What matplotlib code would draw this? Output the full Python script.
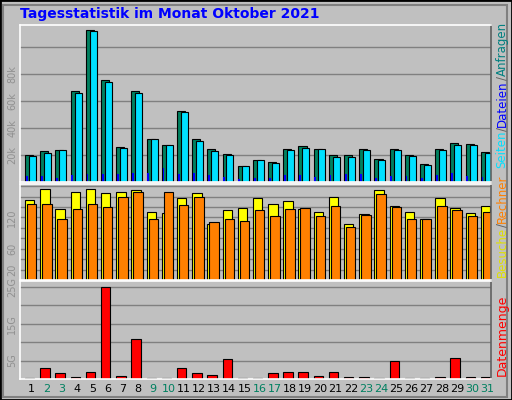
import matplotlib
matplotlib.use("Agg")
import matplotlib.pyplot as plt
from matplotlib.patches import Rectangle
import numpy as np

days = list(range(1, 32))
weekend = [2, 3, 9, 10, 16, 17, 23, 24, 30, 31]
hits = [20, 23, 23.7, 66.9, 112.6, 75.6, 26, 66.9, 32, 27.4, 52.8, 32, 24.7, 20.7, 12.1, 16.5,
        15, 24.7, 26.7, 24.7, 20, 20, 24.7, 17.3, 24.7, 20, 13.3, 24.7, 28.9, 28.1, 22.2]
files = [19.3, 21.5, 23.7, 65.9, 111.9, 74.1, 25.2, 65.9, 32, 27.4, 51.9, 30.4, 23, 20, 11.9, 16.3,
         14.1, 23.7, 25.2, 24.7, 18.5, 18.5, 23.7, 16.3, 23.7, 19.3, 12.6, 23.7, 27.4, 27.4, 21.5]
pages = [4.7, 4.7, 3.2, 5.4, 6.2, 6.2, 6.2, 6.9, 6.9, 10.6, 6.2, 6.9, 5.4, 4.0, 2.5, 3.2,
         3.2, 5.4, 5.4, 4.0, 5.4, 6.2, 6.2, 3.2, 4.7, 4.7, 3.2, 5.4, 6.9, 4.7, 4.0]
visits = [154, 174, 136, 168, 174, 166, 168, 172, 130, 128, 158, 166, 107, 134, 138, 158,
          146, 152, 136, 130, 160, 107, 126, 172, 142, 130, 116, 158, 138, 128, 142]
sites = [146, 146, 116, 136, 146, 140, 160, 168, 116, 168, 144, 160, 112, 116, 114, 134,
         122, 136, 138, 122, 142, 101, 124, 164, 140, 116, 116, 142, 134, 122, 130]
volume = [0.4, 2.9, 1.5, 0.6, 1.8, 25.1, 0.9, 10.9, 0.4, 0.4, 3.1, 1.5, 1.2, 5.4, 0.4, 0.4,
          1.5, 1.8, 1.8, 0.9, 2.0, 0.6, 0.6, 0.4, 4.8, 0.4, 0.4, 0.6, 5.6, 0.6, 0.6]

W, H = 512, 400
BG = "#c0c0c0"
fig = plt.figure(figsize=(W/100, H/100), dpi=100, facecolor=BG)
fig.patches.append(Rectangle((0, 0), 1, 1, transform=fig.transFigure, fill=False,
                             edgecolor="black", linewidth=2))
fig.patches.append(Rectangle((3/W, 3/H), 1-8/W, 1-8/H, transform=fig.transFigure, fill=False,
                             edgecolor="#808080", linewidth=1.5))

def ax_at(x0, y0, x1, y1):
    ax = fig.add_axes([x0/W, 1-y1/H, (x1-x0)/W, (y1-y0)/H])
    ax.set_facecolor(BG)
    for s in ax.spines.values():
        s.set_color("white")
        s.set_linewidth(1.2)
    ax.spines["right"].set_color("#606060")
    ax.set_xlim(0.5, 31.5)
    ax.tick_params(axis="x", length=0, labelbottom=False)
    ax.tick_params(axis="y", length=0, labelsize=7, colors="#909090", labelrotation=90, pad=2)
    ax.set_axisbelow(True)
    ax.grid(axis="y", color="#808080", linewidth=1)
    return ax

d = np.array(days)
ax1 = ax_at(20, 25, 491, 182)
ax1.set_ylim(0, 116)
ax1.set_yticks([20, 40, 60, 80, 100])
ax1.set_yticklabels(["20k", "40k", "60k", "80k", ""])
ax1.bar(d - 0.17, hits, width=0.53, align="edge", color="#00805f", edgecolor="black", linewidth=0.8)
ax1.bar(d + 0.09, files, width=0.46, align="edge", color="#00e0ff", edgecolor="black", linewidth=0.8)
ax1.bar(d - 0.12, pages, width=0.12, align="edge", color="#0000ff", edgecolor="none")
for l in ax1.get_yticklabels():
    l.set_va("center")

ax2 = ax_at(20, 184, 491, 280)
ax2.set_ylim(0, 184)
ax2.set_yticks([20, 40, 60, 80, 100, 120, 140, 160, 180])
ax2.set_yticklabels(["20", "", "60", "", "", "120", "", "", ""])
ax2.bar(d - 0.17, visits, width=0.62, align="edge", color="#ffff00", edgecolor="black", linewidth=0.8)
ax2.bar(d - 0.04, sites, width=0.62, align="edge", color="#ff8000", edgecolor="black", linewidth=0.8)
for l in ax2.get_yticklabels():
    l.set_va("center")

ax3 = ax_at(20, 281, 491, 379)
ax3.set_ylim(0, 26.6)
ax3.set_yticks([5, 10, 15, 20, 25])
ax3.set_yticklabels(["5G", "", "15G", "", "25G"])
ax3.bar(d - 0.17, volume, width=0.62, align="edge", color="#ff0000", edgecolor="black", linewidth=0.8)
for l in ax3.get_yticklabels():
    l.set_va("center")

for day in days:
    ax3.text(day + 0.27, -1.3, str(day), ha="center", va="top", fontsize=8,
             color="#008060" if day in weekend else "black")

fig.text(20/W, 1-14/H, "Tagesstatistik im Monat Oktober 2021", fontsize=10, fontweight="bold",
         color="#0000ff", va="center", ha="left")

renderer = fig.canvas.get_renderer()
def vstack(pieces, x, y_bottom, fs):
    y = y_bottom
    for s, c in pieces:
        t = fig.text(x/W, 1-y/H, s, rotation=90, color=c, fontsize=fs, ha="center", va="bottom")
        bb = t.get_window_extent(renderer)
        y -= bb.height

vstack([("Datenmenge", "#ff0000")], 502, 376, 9)
vstack([("Besuche", "#e0e000"), ("/", "#606060"), ("Rechner", "#ff8000")], 502, 277, 8.5)
vstack([("Seiten", "#00e0ff"), ("/", "#606060"), ("Dateien", "#0000ff"), ("/", "#606060"),
        ("Anfragen", "#008080")], 502, 168, 8.5)

fig.savefig("out.png", dpi=100, facecolor=BG)
